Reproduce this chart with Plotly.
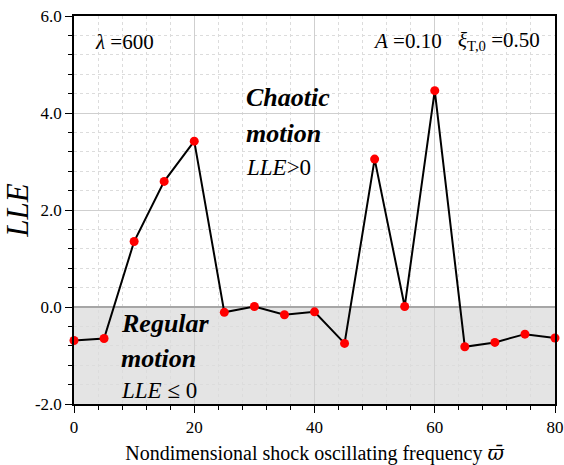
import plotly.graph_objects as go

# Largest Lyapunov exponent vs. nondimensional shock oscillating frequency
omega = [0, 5, 10, 15, 20, 25, 30, 35, 40, 45, 50, 55, 60, 65, 70, 75, 80]
lle = [-0.69, -0.65, 1.35, 2.59, 3.42, -0.11, 0.01, -0.16, -0.10, -0.75,
       3.05, 0.01, 4.46, -0.82, -0.73, -0.56, -0.64]

x_ticks = [0, 20, 40, 60, 80]
y_ticks = [-2, 0, 2, 4, 6]
y_ticktext = ["-2.0", "0.0", "2.0", "4.0", "6.0"]

FONT = "Liberation Serif"

fig = go.Figure()
fig.add_trace(go.Scatter(
    x=omega, y=lle, mode="lines+markers",
    line=dict(color="black", width=2),
    marker=dict(color="#ff0000", size=9, line=dict(width=0)),
    cliponaxis=False, showlegend=False,
))

# regular-motion band (LLE <= 0)
fig.add_shape(type="rect", xref="x", yref="y", x0=0, x1=80, y0=-2, y1=0,
              fillcolor="#e4e4e4", line=dict(width=0), layer="below")

axis_common = dict(
    showline=True, linecolor="black", linewidth=1.5, mirror=True,
    ticks="outside", tickcolor="black", tickwidth=1, ticklen=7,
    showgrid=True, gridcolor="#cfcfcf", gridwidth=1,
    tickfont=dict(family=FONT, size=17, color="black"),
    automargin=False,
)

omega_bar = '<span style="font-family:DejaVu Serif"><i>ϖ\u0304</i></span>'

fig.update_xaxes(
    range=[0, 80], tickvals=x_ticks, ticktext=[str(v) for v in x_ticks],
    zeroline=False,
    minor=dict(dtick=4, ticklen=4, tickcolor="black", showgrid=True,
               gridcolor="#dcdcdc", griddash="dot"),
    title=dict(text="Nondimensional shock oscillating frequency " + omega_bar,
               font=dict(family=FONT, size=20, color="black"), standoff=13),
    **axis_common,
)
fig.update_yaxes(
    range=[-2, 6], tickvals=y_ticks, ticktext=y_ticktext,
    zeroline=True, zerolinecolor="#a6a6a6", zerolinewidth=2,
    minor=dict(dtick=0.4, ticklen=4, tickcolor="black", showgrid=True,
               gridcolor="#dcdcdc", griddash="dot"),
    title=dict(text="<i>LLE</i>", font=dict(family=FONT, size=31, color="black"),
               standoff=10),
    **axis_common,
)

ann = []
def label(x, y, text, size, xanchor="left"):
    ann.append(dict(x=x, y=y, xref="x", yref="y", text=text, showarrow=False,
                    xanchor=xanchor, yanchor="middle",
                    font=dict(family=FONT, size=size, color="black")))

label(3.2, 5.46, "<i>λ</i> =600", 21)
label(49.4, 5.48, "<i>A</i> =0.10", 21)
label(63.5, 5.48, "<i>ξ</i><sub>T,0</sub> =0.50", 21)
label(28.3, 4.31, "<b><i>Chaotic</i></b>", 26)
label(28.3, 3.57, "<b><i>motion</i></b>", 26)
label(28.3, 2.87, "<i>LLE</i>&gt;0", 23)
label(7.5, -0.35, "<b><i>Regular</i></b>", 26)
label(7.5, -1.07, "<b><i>motion</i></b>", 26)
label(7.5, -1.73, "<i>LLE</i> ≤ 0", 23)

fig.update_layout(
    width=564, height=465,
    margin=dict(l=74, r=9, t=16, b=61),
    paper_bgcolor="white", plot_bgcolor="white",
    annotations=ann,
    font=dict(family=FONT, color="black"),
)

fig.write_html("out.html")
